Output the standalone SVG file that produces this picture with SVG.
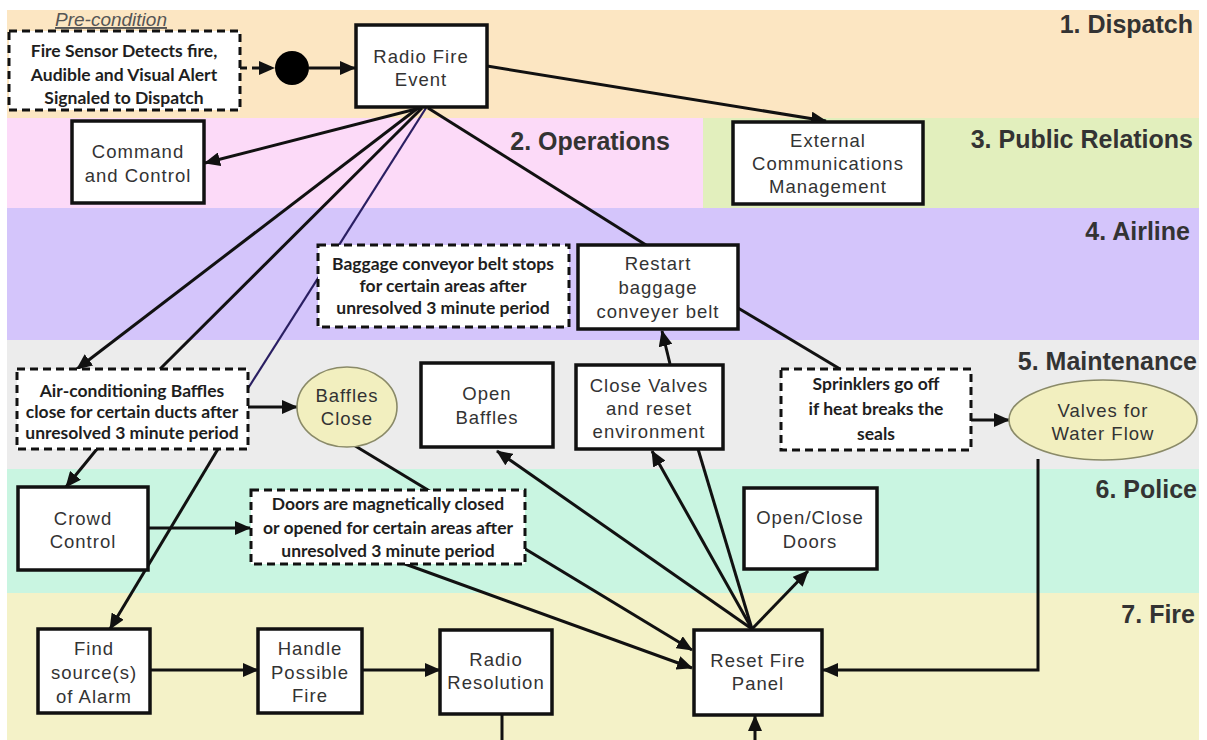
<svg xmlns="http://www.w3.org/2000/svg" width="1207" height="740" viewBox="0 0 1207 740">
<defs>
<style>
.box{fill:#fff;stroke:#111;stroke-width:3.5}
.dbox{fill:#fff;stroke:#111;stroke-width:3;stroke-dasharray:8 5}
.ell{fill:#f2efbf;stroke:#8a8a68;stroke-width:1.6}
.t{font-family:"Liberation Sans",Arial,sans-serif;font-size:18.5px;fill:#333;text-anchor:middle;letter-spacing:1px}
.d{font-family:Lato,"Open Sans",sans-serif;font-weight:bold;font-size:17.5px;fill:#1e1e1e;text-anchor:middle}
.lane{font-family:"Liberation Sans",Arial,sans-serif;font-weight:bold;font-size:25px;fill:#333;text-anchor:end}
.c{fill:none;stroke:#111;stroke-width:3}
</style>
<marker id="ah" viewBox="0 0 16 14" refX="15" refY="7" markerWidth="16" markerHeight="14" markerUnits="userSpaceOnUse" orient="auto">
<path d="M0,0 L16,7 L0,14 z" fill="#111"/>
</marker>
</defs>
<rect x="0" y="0" width="1207" height="740" fill="#fff"/>
<g id="lanes">
<rect x="7" y="10" width="1192" height="108" fill="#fce6c2"/>
<rect x="7" y="118" width="696" height="90" fill="#fcdaf8"/>
<rect x="703" y="118" width="496" height="90" fill="#e2efbd"/>
<rect x="7" y="208" width="1192" height="132" fill="#d4c5fb"/>
<rect x="7" y="340" width="1192" height="129" fill="#ececec"/>
<rect x="7" y="469" width="1192" height="124" fill="#c9f5e1"/>
<rect x="7" y="593" width="1192" height="147" fill="#f4f2c8"/>
<text class="lane" x="1193" y="33">1. Dispatch</text>
<text class="lane" x="670" y="150">2. Operations</text>
<text class="lane" x="1193" y="148">3. Public Relations</text>
<text class="lane" x="1190" y="240">4. Airline</text>
<text class="lane" x="1197" y="370">5. Maintenance</text>
<text class="lane" x="1197" y="498">6. Police</text>
<text class="lane" x="1195" y="623">7. Fire</text>
</g>
<g id="connectors">
<path class="c" d="M240,68 L274,68" stroke-dasharray="7 5" marker-end="url(#ah)"/>
<path class="c" d="M309,68 L355,68" marker-end="url(#ah)"/>
<path class="c" d="M487,66 L826,121" marker-end="url(#ah)"/>
<path class="c" d="M420,108 L205,163" marker-end="url(#ah)"/>
<path class="c" d="M418,108 L77,369" marker-end="url(#ah)"/>
<path class="c" d="M422,108 L160,369"/>
<path d="M426,108 L247,390" fill="none" stroke="#2a1f62" stroke-width="2.2"/>
<path class="c" d="M428,108 L646,245"/>
<path class="c" d="M738,308 L840,369"/>
<path class="c" d="M670,364 L662,331" marker-end="url(#ah)"/>
<path class="c" d="M248,407 L297,407" marker-end="url(#ah)"/>
<path class="c" d="M971,420 L1009,420" marker-end="url(#ah)"/>
<path class="c" d="M97,449 L66,487" marker-end="url(#ah)"/>
<path class="c" d="M218,449 L110,629" marker-end="url(#ah)"/>
<path class="c" d="M148,528 L250,528" marker-end="url(#ah)"/>
<path class="c" d="M352,444 L692,650" marker-end="url(#ah)"/>
<path class="c" d="M405,564 L692,668" marker-end="url(#ah)"/>
<path class="c" d="M752,629 L497,451" marker-end="url(#ah)"/>
<path class="c" d="M752,629 L652,451" marker-end="url(#ah)"/>
<path class="c" d="M752,629 L698,449"/>
<path class="c" d="M752,629 L808,571" marker-end="url(#ah)"/>
<path class="c" d="M1038,459 L1038,670 L823,670" marker-end="url(#ah)"/>
<path class="c" d="M150,670 L258,670" marker-end="url(#ah)"/>
<path class="c" d="M362,670 L440,670" marker-end="url(#ah)"/>
<path class="c" d="M502,714 L502,740"/>
<path class="c" d="M755,740 L755,716" marker-end="url(#ah)"/>
</g>
<g id="precondition">
<rect class="dbox" x="9" y="31" width="231" height="79"/>
<text x="111" y="26" font-family="Liberation Sans,Arial,sans-serif" font-style="italic" font-size="19" fill="#555" text-anchor="middle" text-decoration="underline">Pre-condition</text>
<text class="d" x="124" y="57">Fire Sensor Detects fire,</text>
<text class="d" x="124" y="81">Audible and Visual Alert</text>
<text class="d" x="124" y="104">Signaled to Dispatch</text>
</g>
<g id="start"><circle cx="292" cy="68" r="17" fill="#000"/></g>
<g id="radio-fire-event">
<rect class="box" x="356" y="25" width="131" height="82"/>
<text class="t" x="421" y="63">Radio Fire</text>
<text class="t" x="421" y="86">Event</text>
</g>
<g id="external-communications">
<rect class="box" x="733" y="122" width="190" height="82"/>
<text class="t" x="828" y="147">External</text>
<text class="t" x="828" y="170">Communications</text>
<text class="t" x="828" y="193">Management</text>
</g>
<g id="command-control">
<rect class="box" x="72" y="121" width="132" height="82"/>
<text class="t" x="138" y="158">Command</text>
<text class="t" x="138" y="182">and Control</text>
</g>
<g id="baggage-stops">
<rect class="dbox" x="318" y="245" width="251" height="82"/>
<text class="d" x="443" y="270">Baggage conveyor belt stops</text>
<text class="d" x="443" y="292">for certain areas after</text>
<text class="d" x="443" y="314">unresolved 3 minute period</text>
</g>
<g id="restart-baggage">
<rect class="box" x="578" y="245" width="160" height="84"/>
<text class="t" x="658" y="270">Restart</text>
<text class="t" x="658" y="294">baggage</text>
<text class="t" x="658" y="318">conveyer belt</text>
</g>
<g id="ac-baffles">
<rect class="dbox" x="17" y="369" width="231" height="80"/>
<text class="d" x="132" y="397">Air-conditioning Baffles</text>
<text class="d" x="132" y="418">close for certain ducts after</text>
<text class="d" x="132" y="439">unresolved 3 minute period</text>
</g>
<g id="baffles-close">
<ellipse class="ell" cx="347" cy="407" rx="50" ry="40"/>
<text class="t" x="347" y="402">Baffles</text>
<text class="t" x="347" y="425">Close</text>
</g>
<g id="open-baffles">
<rect class="box" x="421" y="363" width="132" height="84"/>
<text class="t" x="487" y="400">Open</text>
<text class="t" x="487" y="424">Baffles</text>
</g>
<g id="close-valves">
<rect class="box" x="576" y="365" width="147" height="84"/>
<text class="t" x="649" y="392">Close Valves</text>
<text class="t" x="649" y="415">and reset</text>
<text class="t" x="649" y="438">environment</text>
</g>
<g id="sprinklers">
<rect class="dbox" x="781" y="369" width="190" height="81"/>
<text class="d" x="876" y="390" font-size="18.5">Sprinklers go off</text>
<text class="d" x="876" y="415" font-size="18.5">if heat breaks the</text>
<text class="d" x="876" y="440" font-size="18.5">seals</text>
</g>
<g id="valves-water">
<ellipse class="ell" cx="1103" cy="420" rx="94" ry="40"/>
<text class="t" x="1103" y="417" font-size="17.5">Valves for</text>
<text class="t" x="1103" y="440" font-size="17.5">Water Flow</text>
</g>
<g id="crowd-control">
<rect class="box" x="18" y="487" width="130" height="83"/>
<text class="t" x="83" y="525">Crowd</text>
<text class="t" x="83" y="548">Control</text>
</g>
<g id="doors-magnetic">
<rect class="dbox" x="251" y="490" width="274" height="74"/>
<text class="d" x="388" y="510">Doors are magnetically closed</text>
<text class="d" x="388" y="534">or opened for certain areas after</text>
<text class="d" x="388" y="557">unresolved 3 minute period</text>
</g>
<g id="open-close-doors">
<rect class="box" x="744" y="488" width="133" height="81"/>
<text class="t" x="810" y="524">Open/Close</text>
<text class="t" x="810" y="548">Doors</text>
</g>
<g id="find-source">
<rect class="box" x="38" y="629" width="112" height="84"/>
<text class="t" x="94" y="655">Find</text>
<text class="t" x="94" y="679">source(s)</text>
<text class="t" x="94" y="703">of Alarm</text>
</g>
<g id="handle-fire">
<rect class="box" x="258" y="629" width="104" height="84"/>
<text class="t" x="310" y="655">Handle</text>
<text class="t" x="310" y="679">Possible</text>
<text class="t" x="310" y="702">Fire</text>
</g>
<g id="radio-resolution">
<rect class="box" x="440" y="630" width="112" height="84"/>
<text class="t" x="496" y="666">Radio</text>
<text class="t" x="496" y="689">Resolution</text>
</g>
<g id="reset-fire-panel">
<rect class="box" x="694" y="630" width="128" height="85"/>
<text class="t" x="758" y="667">Reset Fire</text>
<text class="t" x="758" y="690">Panel</text>
</g>
</svg>
